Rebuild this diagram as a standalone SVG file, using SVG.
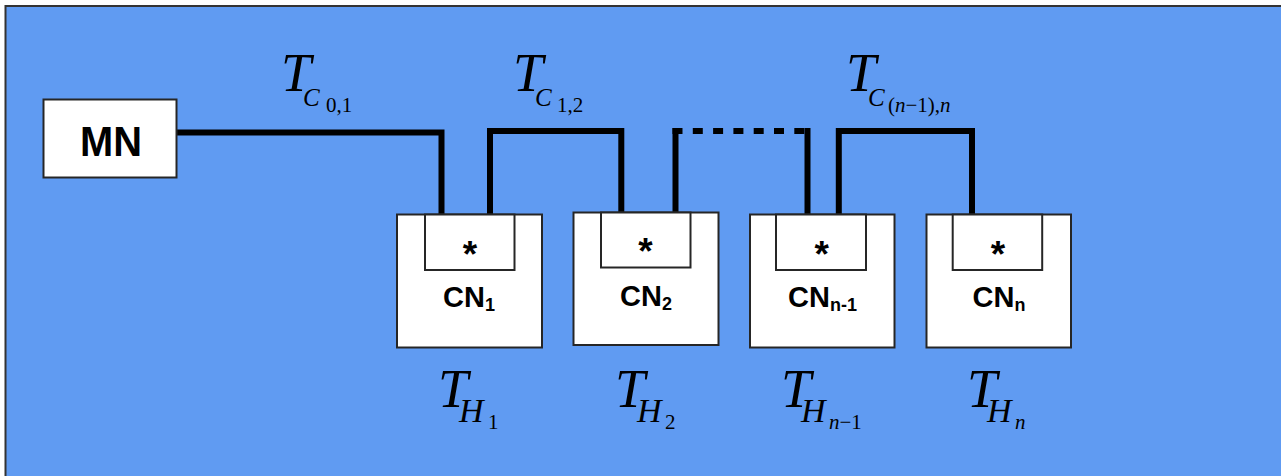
<svg xmlns="http://www.w3.org/2000/svg" width="1281" height="476" viewBox="0 0 1281 476">
<defs>
<style>
.box{fill:#ffffff;stroke:#262626;stroke-width:2}
.wire{fill:none;stroke:#000;stroke-width:6;stroke-linejoin:miter;stroke-linecap:butt}
.dash{stroke-dasharray:10 10.3}
.lbl{font-family:"Liberation Sans",Arial,sans-serif;font-weight:bold;fill:#000}
.cn{font-size:29px}
.cs{font-size:18px}
.ast{font-size:37px;text-anchor:middle}
.m{font-family:"Liberation Serif","Times New Roman",serif;fill:#000;font-size:21px}
.big{font-size:54px;font-style:italic}
.mid{font-size:25px;font-style:italic}
.hh{font-size:34px;font-style:italic}
.sm{font-size:21px;font-style:normal}
.it{font-style:italic}
</style>
</defs>
<rect x="0" y="0" width="1281" height="476" fill="#ffffff"/>
<rect x="5.5" y="6" width="1276" height="470" fill="#609BF2"/>
<path d="M5.5,476 V6 H1281" fill="none" stroke="#333" stroke-width="2"/>

<g id="connectors">
<path class="wire" d="M177,132.5 H441.5 V214"/>
<path class="wire" d="M490,214 V131 H621.3 V212"/>
<path class="wire" d="M675.5,212 V128"/>
<path class="wire dash" d="M672.5,131 H810.5"/>
<path class="wire" d="M807.5,128 V214"/>
<path class="wire" d="M838.8,214 V131 H972 V214"/>
</g>

<g id="MN">
<rect class="box" x="43.5" y="99.5" width="133" height="78"/>
<text class="lbl" x="111" y="156" font-size="43" text-anchor="middle" textLength="62" lengthAdjust="spacingAndGlyphs">MN</text>
</g>

<g id="CN1">
<rect class="box" x="397" y="214.5" width="145" height="133"/>
<rect class="box" x="425" y="214.5" width="89.5" height="55.5"/>
<text class="lbl ast" x="470" y="267">*</text>
<text class="lbl cn" x="443" y="307">CN<tspan class="cs" y="311">1</tspan></text>
</g>

<g id="CN2">
<rect class="box" x="573.5" y="212.5" width="145" height="132.5"/>
<rect class="box" x="601" y="212.5" width="89.5" height="55"/>
<text class="lbl ast" x="645.5" y="264">*</text>
<text class="lbl cn" x="620" y="306">CN<tspan class="cs" y="310">2</tspan></text>
</g>

<g id="CNn-1">
<rect class="box" x="750" y="214.5" width="144.5" height="133"/>
<rect class="box" x="776" y="214.5" width="90" height="55.5"/>
<text class="lbl ast" x="821.7" y="267">*</text>
<text class="lbl cn" x="788" y="307">CN<tspan class="cs" y="311">n-1</tspan></text>
</g>

<g id="CNn">
<rect class="box" x="926.5" y="214.5" width="144.5" height="133"/>
<rect class="box" x="952.7" y="214.5" width="89.5" height="55.5"/>
<text class="lbl ast" x="998" y="267">*</text>
<text class="lbl cn" x="972.5" y="307">CN<tspan class="cs" y="311">n</tspan></text>
</g>

<g id="labels">
<text class="m" x="281" y="91"><tspan class="big">T</tspan><tspan class="mid" x="303" y="106">C</tspan><tspan class="sm" x="326" y="112">0,1</tspan></text>
<text class="m" x="513" y="91"><tspan class="big">T</tspan><tspan class="mid" x="535" y="106">C</tspan><tspan class="sm" x="557" y="112">1,2</tspan></text>
<text class="m" x="846" y="91"><tspan class="big">T</tspan><tspan class="mid" x="868" y="106">C</tspan><tspan class="sm" x="888" y="112">(<tspan class="it">n</tspan>−1),<tspan class="it">n</tspan></tspan></text>

<text class="m" x="438" y="407"><tspan class="big">T</tspan><tspan class="hh" x="459" y="422">H</tspan><tspan class="sm" x="488" y="429">1</tspan></text>
<text class="m" x="615" y="407"><tspan class="big">T</tspan><tspan class="hh" x="637" y="422">H</tspan><tspan class="sm" x="665" y="429">2</tspan></text>
<text class="m" x="781" y="407"><tspan class="big">T</tspan><tspan class="hh" x="801" y="422">H</tspan><tspan class="sm" x="829" y="429"><tspan class="it">n</tspan>−1</tspan></text>
<text class="m" x="967" y="407"><tspan class="big">T</tspan><tspan class="hh" x="987" y="422">H</tspan><tspan class="sm it" x="1015" y="429">n</tspan></text>
</g>
</svg>
